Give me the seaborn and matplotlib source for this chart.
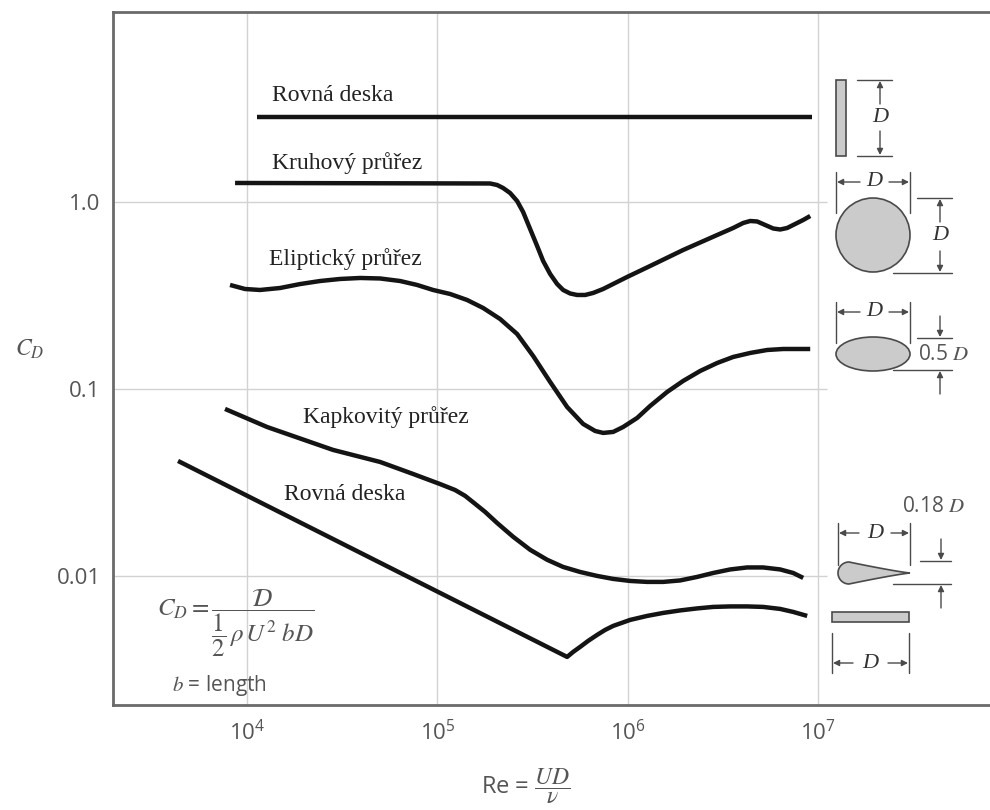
import numpy as np
import pandas as pd
import matplotlib
matplotlib.use("Agg")
import matplotlib.pyplot as plt
import seaborn as sns
from matplotlib.patches import Rectangle, Circle, Ellipse, Polygon

# ---------------- data ----------------
plate_normal_re = [1.13e4, 9.3e6]
plate_normal_cd = [2.85, 2.85]

circle_re = [8650, 189200, 205900, 221400, 241000, 262300, 282100, 307000, 334100,
             359400, 391100, 425600, 457600, 498100, 542100, 597200, 658000, 742500,
             838000, 992700, 1.311e6, 1.955e6, 2.950e6, 3.580e6, 4.040e6, 4.398e6,
             4.786e6, 5.272e6, 5.809e6, 6.321e6, 6.881e6, 7.580e6, 8.351e6, 9.09e6]
circle_cd = [1.264, 1.256, 1.233, 1.188, 1.117, 1.012, 0.884, 0.717, 0.582,
             0.4836, 0.4121, 0.3643, 0.3384, 0.3241, 0.3182, 0.3182, 0.3262, 0.3425,
             0.3643, 0.3972, 0.4547, 0.5537, 0.6661, 0.7261, 0.7722, 0.7914,
             0.7866, 0.7534, 0.7216, 0.7128, 0.7261, 0.7628, 0.8012, 0.8416]

ellipse_re = [8140, 9760, 11700, 14900, 19000, 24200, 30800, 39300, 50000, 63700,
              78200, 94900, 116600, 143300, 173900, 213500, 262300, 318500, 391100,
              480300, 582900, 674200, 742500, 838000, 945800, 1.121e6, 1.311e6,
              1.611e6, 1.955e6, 2.402e6, 2.950e6, 3.580e6, 4.398e6, 5.401e6,
              6.554e6, 9.09e6]
ellipse_cd = [0.360, 0.3425, 0.3384, 0.3467, 0.364, 0.3779, 0.3875, 0.3923, 0.3899,
              0.3779, 0.360, 0.3384, 0.3221, 0.2991, 0.2711, 0.2367, 0.1968, 0.1501,
              0.1090, 0.0801, 0.0650, 0.0596, 0.0582, 0.0589, 0.0626, 0.0700, 0.0811,
              0.0964, 0.1104, 0.1248, 0.1377, 0.1483, 0.1558, 0.1616, 0.1636, 0.1636]

stream_re = [7662, 12740, 28300, 50000, 74530, 103300, 123900, 139900, 157800,
             178100, 205900, 249900, 307000, 377200, 457600, 562200, 690400, 838000,
             1.029e6, 1.264e6, 1.535e6, 1.885e6, 2.316e6, 2.811e6, 3.452e6, 4.241e6,
             5.146e6, 6.321e6, 7.399e6, 8.351e6]
stream_cd = [0.0782, 0.0626, 0.0472, 0.0407, 0.0351, 0.0310, 0.0288, 0.0268, 0.0243,
             0.0220, 0.0192, 0.0162, 0.0138, 0.0122, 0.01117, 0.01050, 0.01000, 0.00964,
             0.00940, 0.00929, 0.00929, 0.00946, 0.00988, 0.01037, 0.01083, 0.01110,
             0.01110, 0.01083, 0.01037, 0.00976]

plate_par_re = [4339, 480300, 516700, 562200, 619400, 690400, 760700, 838000,
                1.029e6, 1.264e6, 1.535e6, 1.885e6, 2.316e6, 2.811e6, 3.452e6,
                4.241e6, 5.146e6, 6.321e6, 7.399e6, 8.763e6]
plate_par_cd = [0.04121, 0.003688, 0.003923, 0.004173, 0.004493, 0.004837, 0.005143,
                0.005402, 0.005817, 0.006110, 0.006340, 0.006539, 0.006702, 0.006827,
                0.006869, 0.006869, 0.006827, 0.006660, 0.006419, 0.006110]

x_ticks = [1e4, 1e5, 1e6, 1e7]
x_tick_labels = [r"$\mathregular{10^{4}}$", r"$\mathregular{10^{5}}$",
                 r"$\mathregular{10^{6}}$", r"$\mathregular{10^{7}}$"]
y_ticks = [0.01, 0.1, 1.0]
y_tick_labels = ["0.01", "0.1", "1.0"]

curve_labels = ["Rovná deska", "Kruhový průřez", "Eliptický průřez",
                "Kapkovitý průřez", "Rovná deska"]

# ---------------- style ----------------
sns.set_theme(style="white")
plt.rcParams["font.family"] = ["Open Sans", "DejaVu Sans"]
plt.rcParams["mathtext.fontset"] = "custom"
plt.rcParams["mathtext.rm"] = "Open Sans"
plt.rcParams["mathtext.it"] = "Liberation Serif:italic"
plt.rcParams["mathtext.bf"] = "Open Sans:bold"

GRAY = "#555555"
LINE = "#141414"
SPINE = "#6a6a6a"
GRID = "#d2d2d2"

fig = plt.figure(figsize=(9.9, 8.1), dpi=100)
ax = fig.add_axes([113 / 990, 105 / 810, 877 / 990, 693 / 810])
ax.set_xscale("log")
ax.set_yscale("log")
xmin, xmax = 1976, 8.0e7
ax.set_xlim(xmin, xmax)
ax.set_ylim(0.00204, 10.38)

# grid
for v in x_ticks:
    ax.axvline(v, color=GRID, lw=1.0, zorder=0)
ax.hlines(y_ticks, xmin, 1.12e7, color=GRID, lw=1.0, zorder=0)

series = [(plate_normal_re, plate_normal_cd), (circle_re, circle_cd),
          (ellipse_re, ellipse_cd), (stream_re, stream_cd),
          (plate_par_re, plate_par_cd)]
for re_, cd_ in series:
    sns.lineplot(x=re_, y=cd_, ax=ax, sort=False, estimator=None, color=LINE,
                 lw=3.2, solid_capstyle="butt", solid_joinstyle="round", zorder=3)

ax.set_xticks(x_ticks)
ax.set_xticklabels(x_tick_labels)
ax.set_yticks(y_ticks)
ax.set_yticklabels(y_tick_labels)
ax.minorticks_off()
ax.tick_params(axis="x", length=0, pad=11, labelsize=16, labelcolor=GRAY)
ax.tick_params(axis="y", length=0, pad=9, labelsize=16, labelcolor=GRAY)

for s in ["left", "top", "bottom"]:
    ax.spines[s].set_visible(True)
    ax.spines[s].set_color(SPINE)
    ax.spines[s].set_linewidth(2.0)
ax.spines["right"].set_visible(False)

# curve labels (data coords)
label_pos = [(1.36e4, 3.69), (1.36e4, 1.62), (1.31e4, 0.496), (1.97e4, 0.0708), (1.56e4, 0.0271)]
for txt, (lx, ly) in zip(curve_labels, label_pos):
    ax.text(lx, ly, txt, fontfamily="Liberation Serif", fontsize=17, color="#222222",
            ha="left", va="center")

# axis labels
fig.text(526 / 990, 1 - 786 / 810, r"Re = $\dfrac{UD}{\nu}$", fontsize=17, color=GRAY,
         ha="center", va="center", math_fontfamily="stix")
fig.text(30 / 990, 1 - 350 / 810, r"$C_D$", fontsize=17, color=GRAY,
         ha="center", va="center", math_fontfamily="stix")

# ---------------- overlay in pixel coordinates ----------------
ov = fig.add_axes([0, 0, 1, 1], zorder=5)
ov.set_xlim(0, 990)
ov.set_ylim(810, 0)
ov.axis("off")
ov.patch.set_alpha(0)

EC = "#4a4a4a"
FC = "#cbcbcb"
DC = "#333333"


def hl(x0, x1, y):
    ov.plot([x0, x1], [y, y], color=EC, lw=1.0)


def vl(x, y0, y1):
    ov.plot([x, x], [y0, y1], color=EC, lw=1.0)


def arr(x0, y0, x1, y1):
    ov.annotate("", xy=(x1, y1), xytext=(x0, y0),
                arrowprops=dict(arrowstyle="-|>", color=EC, lw=1.0,
                                mutation_scale=9, shrinkA=0, shrinkB=0))


def dtxt(x, y, s="D"):
    ov.text(x, y, s, fontfamily="Liberation Serif", style="italic", fontsize=16,
            color=DC, ha="center", va="center")


# flat plate normal
ov.add_patch(Rectangle((836, 80), 10, 76, facecolor=FC, edgecolor=EC, lw=1.2))
hl(857, 892, 80); hl(857, 892, 156)
arr(880, 104, 880, 81); arr(880, 131, 880, 155)
dtxt(880, 117)

# circle
ov.add_patch(Circle((873, 235), 37, facecolor=FC, edgecolor=EC, lw=1.2))
vl(836, 172, 213); vl(910, 172, 213)
arr(860, 182, 837, 182); arr(889, 182, 909, 182)
dtxt(874, 182)
hl(917, 952, 198); hl(893, 952, 273)
arr(940, 222, 940, 199); arr(940, 251, 940, 272)
dtxt(940, 236)

# ellipse
ov.add_patch(Ellipse((873, 354), 74, 34, facecolor=FC, edgecolor=EC, lw=1.2))
vl(836, 302, 343); vl(910, 302, 343)
arr(860, 312, 837, 312); arr(889, 312, 909, 312)
dtxt(874, 312)
hl(917, 952, 338); hl(893, 952, 370)
arr(940, 316, 940, 337); arr(940, 394, 940, 371)
ov.text(918, 355, r"0.5 $D$", fontsize=15, color=GRAY, ha="left", va="center",
        math_fontfamily="stix")

# teardrop
t = np.linspace(0, 1, 40)
xs_top = 849 + t * (910 - 849)
hs = 11 * (1 - t) ** 1.15
ang = np.linspace(np.pi / 2, 3 * np.pi / 2, 30)
arc = np.column_stack([849 + 11 * np.cos(ang), 573 - 11 * np.sin(ang)])
bottom = np.column_stack([xs_top, 573 + hs])
top = np.column_stack([xs_top[::-1], 573 - hs[::-1]])
tear = np.vstack([arc, bottom, top])
ov.add_patch(Polygon(tear, closed=True, facecolor=FC, edgecolor=EC, lw=1.2))
vl(838, 523, 565); vl(910, 523, 565)
arr(859, 533, 839, 533); arr(891, 533, 909, 533)
dtxt(875, 533)
ov.text(902, 507, r"0.18 $D$", fontsize=15, color=GRAY, ha="left", va="center",
        math_fontfamily="stix")
hl(920, 951, 561); hl(893, 951, 584)
arr(941, 539, 941, 560); arr(941, 608, 941, 585)

# flat plate parallel
ov.add_patch(Rectangle((832, 612), 77, 10, facecolor=FC, edgecolor=EC, lw=1.2))
vl(832, 633, 673); vl(909, 633, 673)
arr(853, 663, 833, 663); arr(888, 663, 908, 663)
dtxt(870, 663)

# definition formula
ov.text(157, 623, r"$C_D = \dfrac{\mathcal{D}}{\dfrac{1}{2}\,\rho\, U^2\; bD}$", fontsize=18,
        color=GRAY, ha="left", va="center", math_fontfamily="stix")
ov.text(172, 686, r"$b$ = length", fontsize=15, color=GRAY, ha="left", va="center",
        math_fontfamily="stix")

fig.savefig("out.png", dpi=100)
